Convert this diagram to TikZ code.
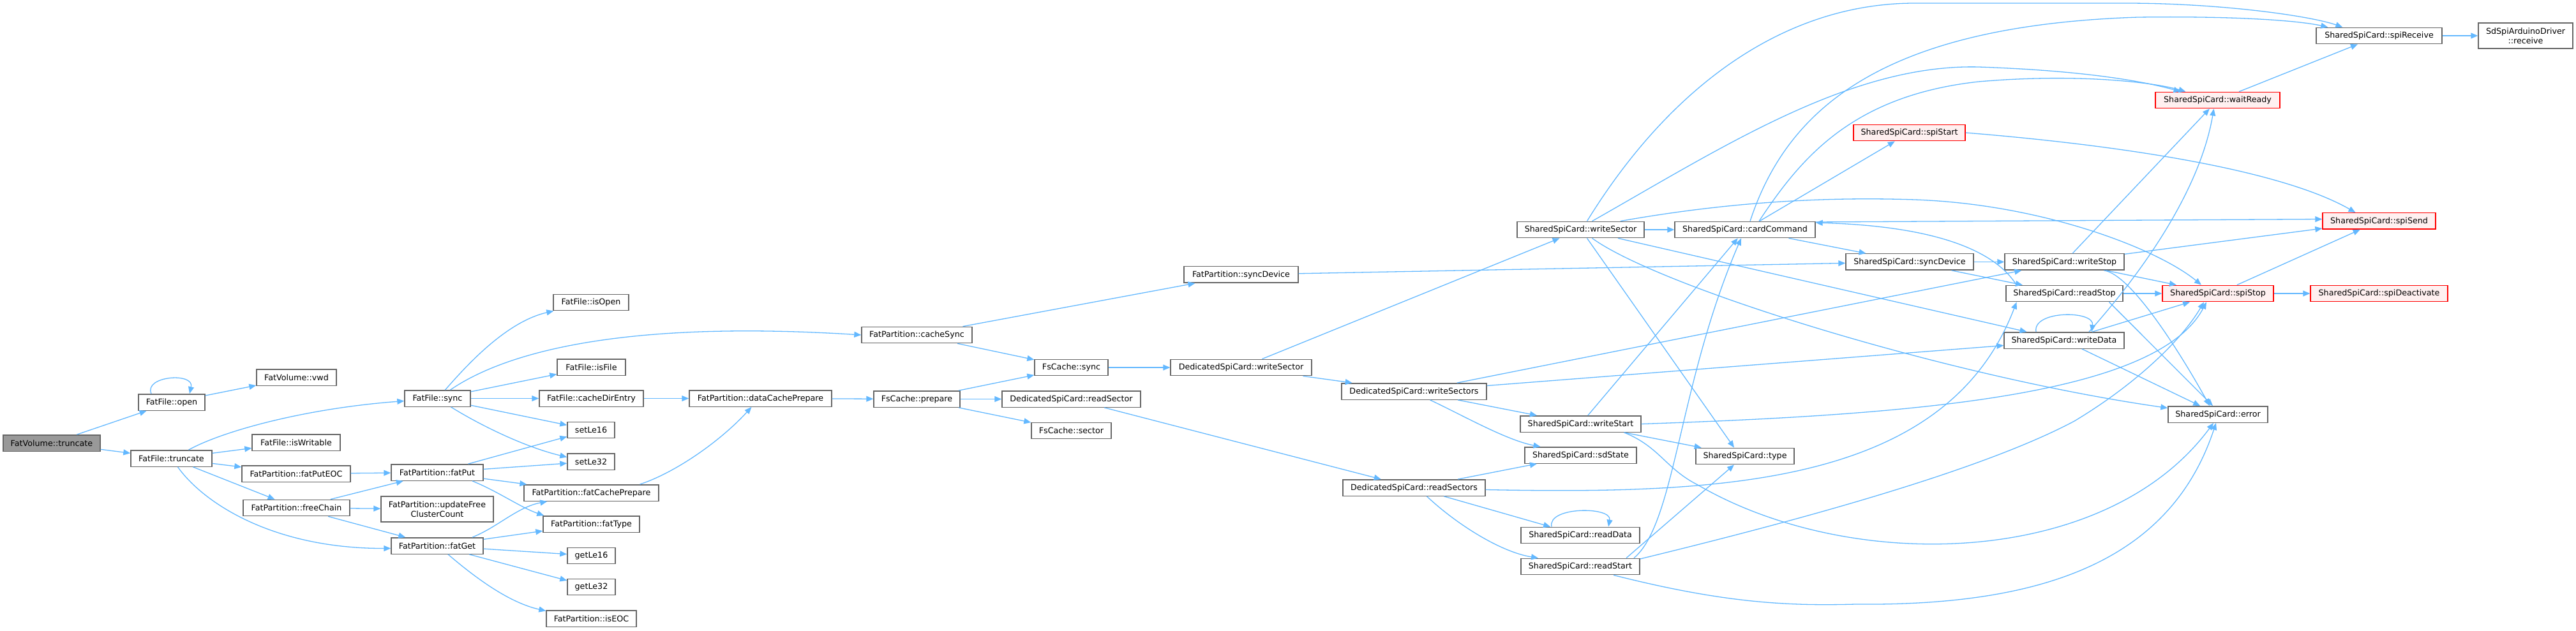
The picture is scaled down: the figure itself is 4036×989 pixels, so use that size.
\documentclass[tikz,border=0pt]{standalone}
\usepackage{fontspec}
\setmainfont{DejaVu Sans}
\usetikzlibrary{arrows.meta,calc}
\definecolor{edgecol}{HTML}{63B8FF}
\definecolor{ndborder}{HTML}{666666}
\definecolor{rootfill}{HTML}{999999}
\definecolor{redborder}{HTML}{FF0000}
\definecolor{redfill}{HTML}{FFF0F0}
\tikzset{
  nd/.style={draw=ndborder, fill=white, line width=0.7pt, inner sep=0pt,
    minimum height=12.7pt, font=\fontsize{6.35}{7.4}\selectfont, align=center},
  rootnd/.style={fill=rootfill},
  rednd/.style={draw=redborder, fill=redfill},
  twoline/.style={minimum height=20pt},
  edge/.style={draw=edgecol, line width=0.65pt, -{Triangle[length=5.5pt,width=4.5pt]}}
}
\newcommand\gnode[6][]{\node[nd,#1,minimum width=#5*0.5pt] (#2) at (#3,#4) {#6};}
\begin{document}
\begin{tikzpicture}[x=0.5pt,y=-0.5pt]
\useasboundingbox (0,0) rectangle (4036,989);
% nodes
\gnode[rootnd]{root}{81}{694.5}{152}{FatVolume::truncate}
\gnode{open}{269}{630.5}{104}{FatFile::open}
\gnode{vwd}{464.5}{591.5}{125}{FatVolume::vwd}
\gnode{ftrunc}{268.5}{718.5}{127}{FatFile::truncate}
\gnode{isWritable}{464}{693.5}{138}{FatFile::isWritable}
\gnode{fatPutEOC}{464}{742.5}{170}{FatPartition::fatPutEOC}
\gnode{freeChain}{464.5}{796}{167}{FatPartition::freeChain}
\gnode{sync}{685.5}{624.5}{103}{FatFile::sync}
\gnode{fatPut}{685}{740.5}{144}{FatPartition::fatPut}
\gnode[twoline]{updFree}{685}{798}{176}{FatPartition::updateFree\\ClusterCount}
\gnode{fatGet}{685}{855.5}{144}{FatPartition::fatGet}
\gnode{isOpen}{926}{474}{118}{FatFile::isOpen}
\gnode{isFile}{926.5}{575.5}{107}{FatFile::isFile}
\gnode{cacheDirEntry}{926.5}{624.5}{163}{FatFile::cacheDirEntry}
\gnode{setLe16}{926}{674}{74}{setLe16}
\gnode{setLe32}{926}{723.5}{74}{setLe32}
\gnode{fatCachePrepare}{926.5}{772.5}{211}{FatPartition::fatCachePrepare}
\gnode{fatType}{926.5}{821.5}{151}{FatPartition::fatType}
\gnode{getLe16}{926.5}{871}{75}{getLe16}
\gnode{getLe32}{926.5}{920}{75}{getLe32}
\gnode{isEOC}{926.5}{969.5}{141}{FatPartition::isEOC}
\gnode{dataCachePrepare}{1191.5}{624.5}{223}{FatPartition::dataCachePrepare}
\gnode{cacheSync}{1436.5}{525}{173}{FatPartition::cacheSync}
\gnode{prepare}{1436.5}{625.5}{135}{FsCache::prepare}
\gnode{pSyncDevice}{1944.5}{430.5}{179}{FatPartition::syncDevice}
\gnode{fsSync}{1678.5}{576}{115}{FsCache::sync}
\gnode{readSector}{1678.5}{625.5}{217}{DedicatedSpiCard::readSector}
\gnode{sector}{1678.5}{675}{125}{FsCache::sector}
\gnode{dWriteSector}{1944.5}{576}{221}{DedicatedSpiCard::writeSector}
\gnode{writeSectors}{2215.5}{613.5}{227}{DedicatedSpiCard::writeSectors}
\gnode{readSectors}{2215.5}{764.5}{223}{DedicatedSpiCard::readSectors}
\gnode{sWriteSector}{2476.5}{360}{199}{SharedSpiCard::writeSector}
\gnode{writeStart}{2476.5}{664.5}{189}{SharedSpiCard::writeStart}
\gnode{sdState}{2476.5}{713.5}{175}{SharedSpiCard::sdState}
\gnode{readData}{2476}{839}{186}{SharedSpiCard::readData}
\gnode{readStart}{2476}{888}{186}{SharedSpiCard::readStart}
\gnode{cardCommand}{2734}{360}{220}{SharedSpiCard::cardCommand}
\gnode{type}{2734}{715}{154}{SharedSpiCard::type}
\gnode[rednd]{spiStart}{2991.5}{208}{175}{SharedSpiCard::spiStart}
\gnode{sSyncDevice}{2992}{410.5}{200}{SharedSpiCard::syncDevice}
\gnode{writeStop}{3234.5}{410.5}{187}{SharedSpiCard::writeStop}
\gnode{readStop}{3234.5}{460}{183}{SharedSpiCard::readStop}
\gnode{writeData}{3234}{533.5}{188}{SharedSpiCard::writeData}
\gnode[rednd]{waitReady}{3474.5}{157}{195}{SharedSpiCard::waitReady}
\gnode[rednd]{spiStop}{3475}{460}{174}{SharedSpiCard::spiStop}
\gnode{error}{3475}{649.5}{156}{SharedSpiCard::error}
\gnode{spiReceive}{3727.5}{56}{197}{SharedSpiCard::spiReceive}
\gnode[rednd]{spiSend}{3727.5}{346.5}{177}{SharedSpiCard::spiSend}
\gnode[rednd]{spiDeactivate}{3727.5}{460}{215}{SharedSpiCard::spiDeactivate}
\gnode[twoline]{sdDriver}{3957}{56}{148}{SdSpiArduinoDriver\\::receive}
% edges
\draw[edge] (root) -- (open);
\draw[edge] (root) -- (ftrunc);
\draw[edge] ($(open.north)+(-32,0)$) .. controls ($(open.north)+(-44,-28)$) and ($(open.north)+(36,-34)$) .. ($(open.north)+(28,0)$);
\draw[edge] (open) -- (vwd);
\draw[edge] ($(ftrunc.north)+(27,0)$) .. controls (350,675) and (480,640) .. ($(sync.west)+(0,4)$);
\draw[edge] (ftrunc) -- (isWritable);
\draw[edge] (ftrunc) -- (fatPutEOC);
\draw[edge] (ftrunc) -- (freeChain);
\draw[edge] ($(ftrunc.south)+(10,0)$) .. controls (320,790) and (430,860) .. ($(fatGet.west)+(0,4)$);
\draw[edge] (fatPutEOC) -- (fatPut);
\draw[edge] (freeChain) -- (fatPut);
\draw[edge] (freeChain) -- (updFree);
\draw[edge] (freeChain) -- (fatGet);
\draw[edge] ($(sync.north)+(12,0)$) .. controls (725,580) and (790,505) .. ($(isOpen.south west)+(1,0)$);
\draw[edge] ($(sync.north)+(20,0)$) .. controls (780,560) and (950,500) .. (cacheSync.west);
\draw[edge] (sync) -- (isFile);
\draw[edge] (sync) -- (cacheDirEntry);
\draw[edge] (sync) -- (setLe16);
\draw[edge] ($(sync.south)+(21,0)$) .. controls (750,665) and (820,700) .. ($(setLe32.west)+(0,-7)$);
\draw[edge] (fatPut) -- (setLe16);
\draw[edge] (fatPut) -- (setLe32);
\draw[edge] (fatPut) -- (fatCachePrepare);
\draw[edge] ($(fatPut.south)+(55,0)$) .. controls (780,770) and (815,795) .. ($(fatType.north west)+(2,0)$);
\draw[edge] ($(fatGet.north)+(55,0)$) .. controls (780,826) and (810,795) .. ($(fatCachePrepare.south west)+(37,0)$);
\draw[edge] (fatGet) -- (fatType);
\draw[edge] (fatGet) -- (getLe16);
\draw[edge] (fatGet) -- (getLe32);
\draw[edge] ($(fatGet.south)+(17,0)$) .. controls (750,910) and (800,945) .. ($(isEOC.west)+(0,-12)$);
\draw[edge] (cacheDirEntry) -- (dataCachePrepare);
\draw[edge] ($(fatCachePrepare.north)+(76,0)$) .. controls (1060,740) and (1130,690) .. ($(dataCachePrepare.south)+(-14,0)$);
\draw[edge] (dataCachePrepare) -- (prepare);
\draw[edge] (cacheSync) -- (pSyncDevice);
\draw[edge] (cacheSync) -- (fsSync);
\draw[edge] (prepare) -- (fsSync);
\draw[edge] (prepare) -- (readSector);
\draw[edge] (prepare) -- (sector);
\draw[edge] (fsSync) -- (dWriteSector);
\draw[edge] (readSector) -- (readSectors);
\draw[edge] (pSyncDevice) -- (sSyncDevice);
\draw[edge] (dWriteSector) -- (sWriteSector);
\draw[edge] (dWriteSector) -- (writeSectors);
\draw[edge] (writeSectors) -- (writeStop);
\draw[edge] ($(writeSectors.east)+(0,-9)$) -- ($(writeData.west)+(0,8)$);
\draw[edge] (writeSectors) -- (writeStart);
\draw[edge] ($(writeSectors.south)+(25,0)$) .. controls (2290,650) and (2360,690) .. ($(sdState.north)+(-63,0)$);
\draw[edge] (readSectors) -- (sdState);
\draw[edge] ($(readSectors.east)+(0,3)$) .. controls (2700,775) and (3050,760) .. ($(readStop.south)+(-75,0)$);
\draw[edge] (readSectors) -- (readData);
\draw[edge] ($(readSectors.south)+(20,0)$) .. controls (2280,820) and (2350,865) .. ($(readStart.north)+(-66,0)$);
\draw[edge] ($(readData.north)+(-45,0)$) .. controls ($(readData.north)+(-52,-32)$) and ($(readData.north)+(50,-32)$) .. ($(readData.north)+(44,0)$);
\draw[edge] (sWriteSector) -- (cardCommand);
\draw[edge] ($(sWriteSector.north)+(10,0)$) .. controls (2620,130) and (2800,5) .. (3000,5) -- (3330,5) .. controls (3480,5) and (3620,25) .. ($(spiReceive.north west)+(42,0)$);
\draw[edge] ($(sWriteSector.north)+(18,0)$) .. controls (2700,230) and (2900,100) .. (3100,105) .. controls (3250,110) and (3350,125) .. ($(waitReady.north)+(-58,0)$);
\draw[edge] ($(sWriteSector.north east)+(-38,0)$) .. controls (2700,318) and (2850,308) .. (3000,313) .. controls (3200,320) and (3380,390) .. ($(spiStop.north)+(-26,0)$);
\draw[edge] ($(sWriteSector.south)+(10,0)$) -- ($(type.north)+(-17,0)$);
\draw[edge] ($(sWriteSector.south)+(18,0)$) .. controls (2600,450) and (3050,590) .. ($(error.west)+(0,-10)$);
\draw[edge] (sWriteSector) -- (writeData);
\draw[edge] ($(cardCommand.north)+(8,0)$) .. controls (2800,170) and (2950,40) .. (3350,27) .. controls (3500,25) and (3600,32) .. ($(spiReceive.north west)+(19,0)$);
\draw[edge] ($(cardCommand.north)+(22,0)$) .. controls (2820,250) and (2900,150) .. (3100,128) .. controls (3250,115) and (3370,128) .. ($(waitReady.north)+(-50,0)$);
\draw[edge] (cardCommand) -- (spiStart);
\draw[edge] (cardCommand) -- (sSyncDevice);
\draw[edge] ($(cardCommand.east)+(0,-12)$) -- ($(spiSend.west)+(0,-3)$);
\draw[edge] ($(readStop.north west)+(17,0)$) .. controls (3130,400) and (3050,355) .. ($(cardCommand.east)+(0,-11)$);
\draw[edge] (spiStart.east) .. controls (3350,230) and (3580,270) .. ($(spiSend.north)+(-37,0)$);
\draw[edge] (sSyncDevice) -- (writeStop);
\draw[edge] (sSyncDevice) -- (readStop);
\draw[edge] (writeStop) -- (waitReady);
\draw[edge] (writeStop) -- (spiSend);
\draw[edge] (writeStop) -- (spiStop);
\draw[edge] ($(writeStop.south)+(62,0)$) .. controls (3340,430) and (3420,560) .. ($(error.north)+(-13,0)$);
\draw[edge] (readStop) -- (spiStop);
\draw[edge] ($(readStop.south)+(70,0)$) -- ($(error.north)+(-8,0)$);
\draw[edge] ($(writeData.north)+(-44,0)$) .. controls ($(writeData.north)+(-50,-34)$) and ($(writeData.north)+(48,-34)$) .. ($(writeData.north)+(43,0)$);
\draw[edge] ($(writeData.north)+(39,0)$) .. controls (3380,400) and (3450,280) .. ($(waitReady.south)+(-6,0)$);
\draw[edge] (writeData) -- (spiStop);
\draw[edge] (writeData) -- (error);
\draw[edge] (writeStart) -- (cardCommand);
\draw[edge] (writeStart) -- (type);
\draw[edge] (writeStart.east) .. controls (3000,650) and (3380,620) .. ($(spiStop.south)+(-18,0)$);
\draw[edge] ($(writeStart.south)+(68,0)$) .. controls (2600,700) and (2610,735) .. (2660,760) .. controls (2900,900) and (3300,890) .. ($(error.south)+(-7,0)$);
\draw[edge] ($(readStart.north)+(72,0)$) -- ($(type.south)+(-17,0)$);
\draw[edge] ($(readStart.north)+(84,0)$) .. controls (2625,820) and (2630,600) .. ($(cardCommand.south)+(-6,0)$);
\draw[edge] ($(readStart.east)+(0,-12)$) .. controls (2800,820) and (3100,740) .. (3250,660) .. controls (3350,600) and (3420,530) .. ($(spiStop.south)+(-22,0)$);
\draw[edge] ($(readStart.south)+(52,0)$) .. controls (2700,945) and (2800,950) .. (2907,947) .. controls (3200,950) and (3400,880) .. ($(error.south)+(-3,0)$);
\draw[edge] (waitReady) -- (spiReceive);
\draw[edge] (spiReceive) -- (sdDriver);
\draw[edge] (spiStop) -- (spiSend);
\draw[edge] (spiStop) -- (spiDeactivate);
\end{tikzpicture}
\end{document}
